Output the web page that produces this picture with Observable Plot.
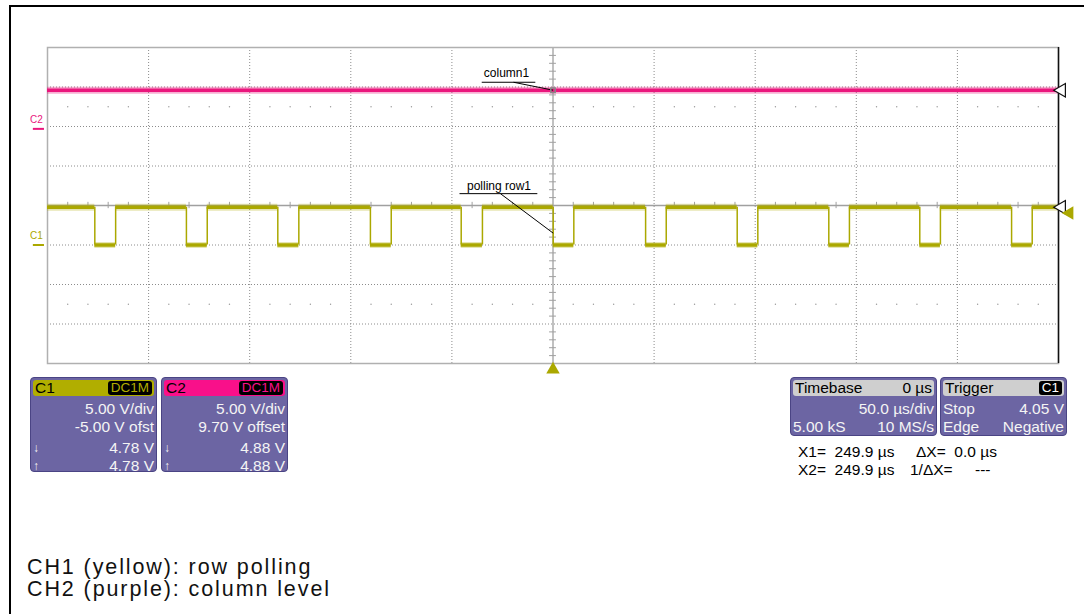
<!DOCTYPE html>
<html>
<head>
<meta charset="utf-8">
<script src="https://cdn.jsdelivr.net/npm/d3@7"></script>
<script src="https://cdn.jsdelivr.net/npm/@observablehq/plot@0.6"></script>
<style>
  html, body { margin: 0; padding: 0; background: #fff; }
  body { width: 1084px; height: 614px; position: relative; overflow: hidden; font-family: "Liberation Sans", Arial, sans-serif; }
  #frame { position: absolute; left: 9px; top: 5px; right: -4px; bottom: -4px; border-left: 2px solid #000; border-top: 2px solid #000; }
  #chart { position: absolute; left: 0; top: 0; }
  .box { position: absolute; background: #6c65a3; border: 1px solid #4a4484; border-radius: 4px; color: #f4f4f4; font-size: 15.5px; box-sizing: border-box; }
  .hdr { margin: 2px 2px 0 2px; height: 16px; border-radius: 3px; display: flex; justify-content: space-between; align-items: center; padding: 0 2px; color: #000; font-size: 15.5px; }
  .badge { background: #000; border-radius: 3px; padding: 0 3px; font-size: 13.5px; line-height: 14px; }
  .row { display: flex; justify-content: space-between; padding: 0 2px; height: 18px; line-height: 18px; white-space: pre; }
  .arr { font-size: 12px; }
  .meas { position: absolute; font-size: 15.5px; line-height: 18px; color: #000; white-space: pre; }
  .cap { position: absolute; left: 27px; font-size: 21.5px; line-height: 21px; letter-spacing: 1.9px; color: #111; white-space: pre; }
</style>
</head>
<body>
<div id="frame"></div>
<div id="chart"></div>
<div id="boxes"></div>
<div id="caption"></div>
<script>
// ---- data (time in µs, levels in V) ----
const channels = ["C1", "C2"];
const channelColors = ["#aba800", "#ea167d"];
const headerColors = ["#b1ae00", "#f9108a"];
const voltsPerDiv = [5.00, 5.00];
const channelOffsets = [-5.00, 9.70];       // V offset (ground marker position)
const channelLevels = [4.78, 4.88];         // measured high level
const c1LowLevel = 0.0;
const c1FallTimes = [-226.6, -181.3, -136.1, -90.3, -45.4, 0.1, 45.8, 91.1, 136.4, 181.4, 226.8];
const c1RiseTimes = [-216.3, -171.0, -125.7, -80.0, -34.9, 10.3, 56.0, 101.3, 146.6, 191.6, 237.0];
const triggerLevel = 4.05;
const triggerTime = 0;
const timeDomain = [-250, 250];
const voltDomain = [-20, 20];
const annotationLabels = ["column1", "polling row1"];
const annotationTextX = [-23, -26.7];
const annotationTextY = [16.7, 2.4];
const annotationLineX1 = [-35, -46];
const annotationLineX2 = [-8.5, -7.5];
const annotationLineY = [15.6, 1.5];
const annotationFromX = [-19.5, -26];
const annotationToX = [0, 0.1];
const annotationToY = [14.6, -3.5];
const captionLines = ["CH1 (yellow): row polling", "CH2 (purple): column level"];

// ---- derived tables ----
const c1Off = channelOffsets[0], c2Off = channelOffsets[1];
const hi = channelLevels[0] + c1Off, lo = c1LowLevel + c1Off;
const c1High = [];
const c1Low = [];
const c1Edges = [];
let start = timeDomain[0];
c1FallTimes.forEach((f, i) => {
  c1High.push({x1: start, x2: f});
  c1Low.push({x1: f, x2: c1RiseTimes[i]});
  c1Edges.push({x: f}, {x: c1RiseTimes[i]});
  start = c1RiseTimes[i];
});
c1High.push({x1: start, x2: timeDomain[1]});

const majorX = d3.range(timeDomain[0] + 50, timeDomain[1], 50).filter(d => d !== 0);
const majorY = d3.range(voltDomain[0] + 5, voltDomain[1], 5).filter(d => d !== 0);
const minorX = d3.range(timeDomain[0] + 10, timeDomain[1], 10).filter(d => d % 50 !== 0);
const minorY = d3.range(voltDomain[0] + 1, voltDomain[1], 1).filter(d => d % 5 !== 0);
const dotRows = [];
for (const y of [12.5, -12.5]) for (const x of minorX) dotRows.push({x, y});

const chanTable = channels.map((c, i) => ({ch: c, color: channelColors[i], ground: channelOffsets[i], level: channelLevels[i] + channelOffsets[i]}));
const ann = annotationLabels.map((t, i) => ({
  text: t, tx: annotationTextX[i], ty: annotationTextY[i],
  ux1: annotationLineX1[i], ux2: annotationLineX2[i], uy: annotationLineY[i],
  fx: annotationFromX[i], tx2: annotationToX[i], ty2: annotationToY[i]
}));

const plot = Plot.plot({
  width: 1084, height: 380,
  marginLeft: 47, marginRight: 26, marginTop: 47, marginBottom: 17,
  x: {domain: timeDomain, axis: null},
  y: {domain: voltDomain, axis: null},
  style: {background: "transparent", overflow: "visible", fontFamily: "Liberation Sans, Arial, sans-serif"},
  marks: [
    // grid
    Plot.ruleX(majorX, {stroke: "#8c8c8c", strokeDasharray: "1,2", strokeWidth: 1}),
    Plot.ruleY(majorY, {stroke: "#8c8c8c", strokeDasharray: "1,2", strokeWidth: 1}),
    Plot.dot(dotRows, {x: "x", y: "y", r: 0.7, fill: "#9a9a9a"}),
    Plot.ruleX([0], {stroke: "#a0a0a0", strokeWidth: 1.3}),
    Plot.ruleY([0], {stroke: "#a0a0a0", strokeWidth: 1.3}),
    Plot.ruleX(minorX, {y1: -0.4, y2: 0.4, stroke: "#a0a0a0"}),
    Plot.ruleY(minorY, {x1: -1.7, x2: 1.7, stroke: "#a0a0a0"}),
    Plot.frame({stroke: "#b0b0b0", strokeWidth: 1.5}),
    Plot.ruleX([timeDomain[1]], {stroke: "#111", strokeWidth: 1.5}),
    // C2 trace
    Plot.ruleY([channelLevels[1] + c2Off], {stroke: channelColors[1], strokeWidth: 7, strokeOpacity: 0.35}),
    Plot.ruleY([channelLevels[1] + c2Off], {stroke: channelColors[1], strokeWidth: 3.5}),
    // C1 trace
    Plot.ruleY(c1High, {y: () => hi, x1: "x1", x2: "x2", stroke: channelColors[0], strokeWidth: 7, strokeOpacity: 0.3}),
    Plot.ruleY(c1High, {y: () => hi, x1: "x1", x2: "x2", stroke: channelColors[0], strokeWidth: 3.5}),
    Plot.ruleY(c1Low, {y: () => lo, x1: "x1", x2: "x2", stroke: channelColors[0], strokeWidth: 6, strokeOpacity: 0.3}),
    Plot.ruleY(c1Low, {y: () => lo, x1: "x1", x2: "x2", stroke: channelColors[0], strokeWidth: 3.5}),
    Plot.ruleX(c1Edges, {x: "x", y1: lo, y2: hi, stroke: channelColors[0], strokeWidth: 1.5}),
    // annotations
    Plot.text(ann, {x: "tx", y: "ty", text: "text", fontSize: 12, fill: "#000"}),
    Plot.ruleY(ann, {y: "uy", x1: "ux1", x2: "ux2", stroke: "#000", strokeWidth: 1}),
    Plot.link(ann, {x1: "fx", y1: "uy", x2: "tx2", y2: "ty2", stroke: "#000", strokeWidth: 1}),
    Plot.dot([{x: 0, y: channelLevels[1] + c2Off}], {x: "x", y: "y", symbol: "square", r: 2.5, stroke: "#888", fill: "none"}),
    // channel ground markers (left)
    Plot.text(chanTable, {x: timeDomain[0], y: "ground", text: "ch", fill: "color", dx: -11, dy: -9, fontSize: 10}),
    Plot.ruleY(chanTable, {y: "ground", x1: timeDomain[0] - 7, x2: timeDomain[0] - 1.5, stroke: "color", strokeWidth: 2}),
    // right level markers
    Plot.dot(chanTable, {x: timeDomain[1], y: "level", symbol: "triangle", rotate: -90, r: 5, dx: 3, stroke: "#111", fill: "#fff", strokeWidth: 1.2}),
    Plot.dot([{y: triggerLevel + c1Off}], {x: timeDomain[1], y: "y", symbol: "triangle", rotate: -90, r: 5, dx: 11, fill: channelColors[0], stroke: "none"}),
    Plot.dot([{x: triggerTime}], {x: "x", y: voltDomain[0], symbol: "triangle", r: 5, dy: 6, fill: channelColors[0], stroke: "none"})
  ]
});
document.getElementById("chart").appendChild(plot);

// ---- info boxes ----
const fmt = v => v.toFixed(2);
const boxes = document.getElementById("boxes");
function chBox(i, left) {
  const offLabel = i === 0 ? `${fmt(channelOffsets[i])} V ofst` : `${fmt(channelOffsets[i])} V offset`;
  return `<div class="box" style="left:${left}px;top:377px;width:127px;height:95px;">
    <div class="hdr" style="background:${headerColors[i]}"><span>${channels[i]}</span><span class="badge" style="color:${headerColors[i]}">DC1M</span></div>
    <div class="row" style="margin-top:4px"><span></span><span>${fmt(voltsPerDiv[i])} V/div</span></div>
    <div class="row"><span></span><span>${offLabel}</span></div>
    <div class="row" style="margin-top:3px"><span class="arr">↓</span><span>${fmt(channelLevels[i])} V</span></div>
    <div class="row"><span class="arr">↑</span><span>${fmt(channelLevels[i])} V</span></div>
  </div>`;
}
boxes.innerHTML =
  chBox(0, 30) + chBox(1, 161) +
  `<div class="box" style="left:790px;top:377px;width:147px;height:59px;">
    <div class="hdr" style="background:#cfcfcf"><span>Timebase</span><span>0 µs</span></div>
    <div class="row" style="margin-top:4px"><span></span><span>50.0 µs/div</span></div>
    <div class="row"><span>5.00 kS</span><span>10 MS/s</span></div>
  </div>
  <div class="box" style="left:940px;top:377px;width:127px;height:59px;">
    <div class="hdr" style="background:#cfcfcf"><span>Trigger</span><span class="badge" style="color:#fff">C1</span></div>
    <div class="row" style="margin-top:4px"><span>Stop</span><span>${fmt(triggerLevel)} V</span></div>
    <div class="row"><span>Edge</span><span>Negative</span></div>
  </div>
  <div class="meas" style="left:798px;top:443px">X1=  249.9 µs</div>
  <div class="meas" style="left:916px;top:443px">ΔX=  0.0 µs</div>
  <div class="meas" style="left:798px;top:461px">X2=  249.9 µs</div>
  <div class="meas" style="left:910px;top:461px">1/ΔX=</div>
  <div class="meas" style="left:975px;top:461px">---</div>`;

document.getElementById("caption").innerHTML = captionLines
  .map((t, i) => `<div class="cap" style="top:${556.5 + 22 * i}px">${t}</div>`).join("");
</script>
</body>
</html>
